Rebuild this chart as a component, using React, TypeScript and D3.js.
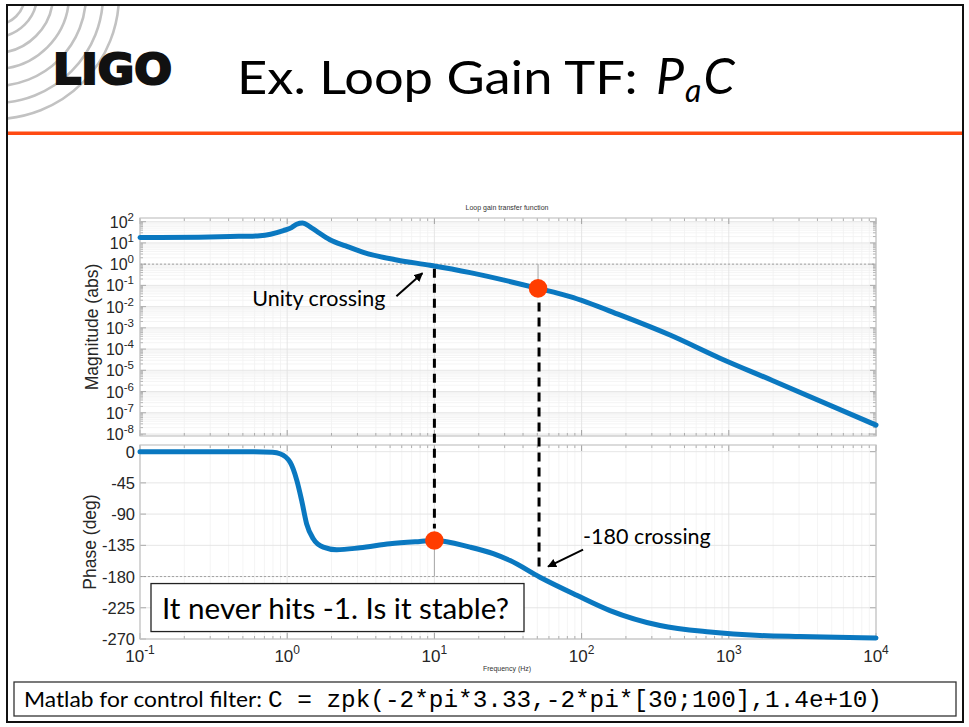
import React from "react";
import * as d3 from "d3";

// ---------- data ----------
const magFreqHz = [0.1, 0.251, 0.41, 0.653, 0.942, 1.07, 1.16, 1.27, 1.43, 1.585, 1.95, 2.5, 3.29, 5.55, 9.33, 17.5, 50.6, 83.4, 182, 399, 871, 1995, 10000];
const magValue = [17.8, 18.6, 20, 21.9, 38, 52.5, 75.9, 87, 57.5, 35.5, 14.1, 7.2, 3.63, 1.58, 0.89, 0.40, 0.072, 0.0295, 0.00407, 4.57e-4, 3.72e-5, 3.24e-6, 2.63e-8];

const phaseFreqHz = [0.1, 0.558, 0.794, 0.893, 1.045, 1.161, 1.253, 1.355, 1.503, 1.758, 2.168, 3.126, 4.989, 7.98, 10.09, 17.46, 25.1, 32.7, 52.1, 92.7, 156, 341, 745, 1629, 3048, 10000];
const phaseDeg = [0, 0, -1, -3, -15, -41, -70, -104, -125.5, -137.6, -141.4, -138.5, -132.8, -129.4, -128, -137.6, -147, -157, -181, -207, -229, -250.6, -260, -265, -266.5, -268.4];

const freqTickExps = [-1, 0, 1, 2, 3, 4];
const magTickExps = [2, 1, 0, -1, -2, -3, -4, -5, -6, -7, -8];
const phaseTicks = [0, -45, -90, -135, -180, -225, -270];

const unityFreqHz = 10;
const phaseCrossFreqHz = 50.6;
const gainAtPhaseCross = 0.072;
const phaseAtUnity = -128;

const titleText = "Ex. Loop Gain TF: ";
const plotTitle = "Loop gain transfer function";
const xLabel = "Frequency (Hz)";
const magLabel = "Magnitude (abs)";
const phaseLabel = "Phase (deg)";
const unityText = "Unity crossing";
const crossText = "-180 crossing";
const boxText = "It never hits -1. Is it stable?";
const footLead = "Matlab for control filter: ";
const footCode = "C = zpk(-2*pi*3.33,-2*pi*[30;100],1.4e+10)";

// ---------- styles ----------
const BLUE = "#0a78c0";
const RED = "#ff3d00";
const FRAME = "#c4c4c4";
const GRID_MAJ = "#e3e3e3";
const GRID_MIN = "#f1f1f1";
const TICK = "#9a9a9a";
const UI = "Lato, 'Open Sans', sans-serif";
const AX = "'Liberation Sans', Arial, sans-serif";

export default function App() {
  const x = d3.scaleLog().domain([0.1, 1e4]).range([140, 876]);
  const yMag = d3.scaleLog().domain([Math.pow(10, -8.094), Math.pow(10, 2.174)]).range([436, 218]);
  const yPh = d3.scaleLinear().domain([-270, 9.6]).range([639, 445]);

  const xL = x.range()[0], xR = x.range()[1];
  const mTop = yMag.range()[1], mBot = yMag.range()[0];
  const pTop = yPh.range()[1], pBot = yPh.range()[0];

  const minorFreqs: number[] = [];
  for (let e = -1; e < 4; e++) for (let k = 2; k <= 9; k++) minorFreqs.push(k * Math.pow(10, e));
  const majorFreqs = freqTickExps.map((e) => Math.pow(10, e));
  const minorMags: number[] = [];
  for (let e = -9; e <= 2; e++)
    for (let k = 2; k <= 9; k++) {
      const v = k * Math.pow(10, e);
      if (v > yMag.domain()[0] && v < yMag.domain()[1]) minorMags.push(v);
    }
  const majorMags = magTickExps.map((e) => Math.pow(10, e));

  const magLine = d3
    .line<number>()
    .x((_, i) => x(magFreqHz[i]))
    .y((d) => yMag(d))
    .curve(d3.curveMonotoneX)(magValue) as string;
  const phLine = d3
    .line<number>()
    .x((_, i) => x(phaseFreqHz[i]))
    .y((d) => yPh(d))
    .curve(d3.curveMonotoneX)(phaseDeg) as string;

  const xu = x(unityFreqHz);
  const xc = x(phaseCrossFreqHz);
  const yDotMag = yMag(gainAtPhaseCross);
  const yDotPh = yPh(phaseAtUnity);
  const y1 = yMag(1);
  const y180 = yPh(-180);

  const arcR = [30, 42, 58, 74, 91, 108, 124];

  const frameTicks = (top: number, bot: number, key: string) => (
    <g key={key}>
      {minorFreqs.map((f, i) => (
        <g key={"mt" + i}>
          <line x1={x(f)} x2={x(f)} y1={bot} y2={bot - 3} stroke={TICK} strokeWidth={0.8} />
          <line x1={x(f)} x2={x(f)} y1={top} y2={top + 3} stroke={TICK} strokeWidth={0.8} />
        </g>
      ))}
      {majorFreqs.map((f, i) => (
        <g key={"Mt" + i}>
          <line x1={x(f)} x2={x(f)} y1={bot} y2={bot - 6} stroke={TICK} strokeWidth={0.9} />
          <line x1={x(f)} x2={x(f)} y1={top} y2={top + 6} stroke={TICK} strokeWidth={0.9} />
        </g>
      ))}
    </g>
  );

  return (
    <svg width={969} height={727} style={{ position: "absolute", left: 0, top: 0, background: "#fff" }}>
      <defs>
        <clipPath id="slideClip">
          <rect x={8} y={6} width={954} height={715} />
        </clipPath>
        <marker id="arr" viewBox="0 0 10 10" refX={9} refY={5} markerWidth={9} markerHeight={9} markerUnits="userSpaceOnUse" orient="auto">
          <path d="M0,0 L10,5 L0,10 z" fill="#000" />
        </marker>
      </defs>
      <rect x={0} y={0} width={969} height={727} fill="#fff" />

      {/* decorative arcs */}
      <g clipPath="url(#slideClip)">
        {arcR.map((r, i) => (
          <circle key={i} cx={-5} cy={-5} r={r} fill="none" stroke="#c2c2c2" strokeWidth={2.6} />
        ))}
      </g>

      {/* slide frame */}
      <rect x={7} y={5} width={956} height={717} fill="none" stroke="#111" strokeWidth={2} />
      <line x1={8} x2={962} y1={133.3} y2={133.3} stroke="#ff4a12" strokeWidth={3.4} />

      {/* logo */}
      <text x={53} y={83.5} fontFamily="'DejaVu Sans', sans-serif" fontWeight={700} fontSize={42} fill="#111" stroke="#111" strokeWidth={2.2} textLength={119} lengthAdjust="spacingAndGlyphs">LIGO</text>

      {/* title */}
      <text x={237} y={94} fontFamily={UI} fontWeight={400} fontSize={46} fill="#000">
        <tspan textLength={414} lengthAdjust="spacingAndGlyphs">{titleText}</tspan>
        <tspan x={656} fontStyle="italic" fontSize={50}>P</tspan>
        <tspan fontStyle="italic" fontSize={32} dy={8} dx={1}>a</tspan>
        <tspan fontStyle="italic" fontSize={50} dy={-8} dx={2}>C</tspan>
      </text>

      {/* magnitude axes */}
      <rect x={xL} y={mTop} width={xR - xL} height={mBot - mTop} fill="#fff" />
      {minorMags.map((v, i) => (
        <line key={"hm" + i} x1={xL} x2={xR} y1={yMag(v)} y2={yMag(v)} stroke={GRID_MIN} strokeWidth={0.8} />
      ))}
      {minorFreqs.map((f, i) => (
        <line key={"vm" + i} x1={x(f)} x2={x(f)} y1={mTop} y2={mBot} stroke={GRID_MIN} strokeWidth={0.8} />
      ))}
      {majorMags.map((v, i) => (
        <line key={"hM" + i} x1={xL} x2={xR} y1={yMag(v)} y2={yMag(v)} stroke={GRID_MAJ} strokeWidth={0.9} />
      ))}
      {majorFreqs.map((f, i) => (
        <line key={"vM" + i} x1={x(f)} x2={x(f)} y1={mTop} y2={mBot} stroke={GRID_MAJ} strokeWidth={0.9} />
      ))}
      {frameTicks(mTop, mBot, "mt")}
      {minorMags.map((v, i) => (
        <g key={"ymt" + i}>
          <line x1={xL} x2={xL + 3} y1={yMag(v)} y2={yMag(v)} stroke={TICK} strokeWidth={0.7} />
          <line x1={xR} x2={xR - 3} y1={yMag(v)} y2={yMag(v)} stroke={TICK} strokeWidth={0.7} />
        </g>
      ))}
      {majorMags.map((v, i) => (
        <g key={"yMt" + i}>
          <line x1={xL} x2={xL + 6} y1={yMag(v)} y2={yMag(v)} stroke={TICK} strokeWidth={0.8} />
          <line x1={xR} x2={xR - 6} y1={yMag(v)} y2={yMag(v)} stroke={TICK} strokeWidth={0.8} />
        </g>
      ))}
      <line x1={xL} x2={xR} y1={y1} y2={y1} stroke="#9a9a9a" strokeWidth={0.9} strokeDasharray="2,2" />
      <line x1={xc} x2={xc} y1={y1} y2={yDotMag} stroke="#a8a8a8" strokeWidth={1} />
      <rect x={xL} y={mTop} width={xR - xL} height={mBot - mTop} fill="none" stroke={FRAME} strokeWidth={1.2} />

      {/* phase axes */}
      <rect x={xL} y={pTop} width={xR - xL} height={pBot - pTop} fill="#fff" />
      {minorFreqs.map((f, i) => (
        <line key={"vpm" + i} x1={x(f)} x2={x(f)} y1={pTop} y2={pBot} stroke={GRID_MIN} strokeWidth={0.8} />
      ))}
      {phaseTicks.map((v, i) => (
        <line key={"hp" + i} x1={xL} x2={xR} y1={yPh(v)} y2={yPh(v)} stroke={GRID_MAJ} strokeWidth={0.9} />
      ))}
      {majorFreqs.map((f, i) => (
        <line key={"vpM" + i} x1={x(f)} x2={x(f)} y1={pTop} y2={pBot} stroke={GRID_MAJ} strokeWidth={0.9} />
      ))}
      {frameTicks(pTop, pBot, "pt")}
      {phaseTicks.map((v, i) => (
        <g key={"ypt" + i}>
          <line x1={xL} x2={xL + 6} y1={yPh(v)} y2={yPh(v)} stroke={TICK} strokeWidth={0.8} />
          <line x1={xR} x2={xR - 6} y1={yPh(v)} y2={yPh(v)} stroke={TICK} strokeWidth={0.8} />
        </g>
      ))}
      <line x1={xL} x2={xR} y1={y180} y2={y180} stroke="#9a9a9a" strokeWidth={0.9} strokeDasharray="2,2" />
      <line x1={xu} x2={xu} y1={yDotPh} y2={y180} stroke="#a8a8a8" strokeWidth={1} />
      <rect x={xL} y={pTop} width={xR - xL} height={pBot - pTop} fill="none" stroke={FRAME} strokeWidth={1.2} />

      {/* curves */}
      <path d={magLine} fill="none" stroke={BLUE} strokeWidth={5} strokeLinejoin="round" strokeLinecap="round" />
      <path d={phLine} fill="none" stroke={BLUE} strokeWidth={5} strokeLinejoin="round" strokeLinecap="round" />

      {/* black dashed markers */}
      <line x1={xu} x2={xu} y1={yMag(0.6)} y2={yDotPh - 12} stroke="#000" strokeWidth={3} strokeDasharray="9,6" />
      <line x1={xc + 1} x2={xc + 1} y1={yDotMag + 14} y2={y180 - 9} stroke="#000" strokeWidth={3} strokeDasharray="9,6" />

      {/* red dots */}
      <circle cx={xc} cy={yDotMag} r={9.3} fill={RED} />
      <circle cx={xu} cy={yDotPh} r={9.3} fill={RED} />

      {/* mag tick labels */}
      {magTickExps.map((e, i) => (
        <text key={"ml" + i} x={134} y={yMag(Math.pow(10, e)) + 6} textAnchor="end" fontFamily={AX} fontSize={16} fill="#262626">
          10<tspan fontSize={11.5} dy={-7}>{String(e)}</tspan>
        </text>
      ))}
      {/* phase tick labels */}
      {phaseTicks.map((v, i) => (
        <text key={"pl" + i} x={135} y={yPh(v) + 6} textAnchor="end" fontFamily={AX} fontSize={16.5} fill="#262626">
          {String(v)}
        </text>
      ))}
      {/* freq tick labels */}
      {freqTickExps.map((e, i) => (
        <text key={"fl" + i} x={x(Math.pow(10, e))} y={662} textAnchor="middle" fontFamily={AX} fontSize={17} fill="#262626">
          10<tspan fontSize={12} dy={-8}>{String(e)}</tspan>
        </text>
      ))}

      <text x={507} y={210} textAnchor="middle" fontFamily={AX} fontSize={7} fill="#333">{plotTitle}</text>
      <text x={507} y={671} textAnchor="middle" fontFamily={AX} fontSize={7} fill="#333">{xLabel}</text>
      <text transform={`translate(98,${(mTop + mBot) / 2}) rotate(-90)`} textAnchor="middle" fontFamily={AX} fontSize={17.5} fill="#262626">{magLabel}</text>
      <text transform={`translate(96,${(pTop + pBot) / 2}) rotate(-90)`} textAnchor="middle" fontFamily={AX} fontSize={17.5} fill="#262626">{phaseLabel}</text>

      {/* annotations */}
      <line x1={xu - 38} y1={y1 + 32} x2={xu - 12} y2={y1 + 9} stroke="#000" strokeWidth={2} markerEnd="url(#arr)" />
      <text x={xu - 49} y={y1 + 42} textAnchor="end" fontFamily={UI} fontSize={21.5} fill="#000">{unityText}</text>
      <line x1={xc + 45} y1={y180 - 27} x2={xc + 10} y2={y180 - 10} stroke="#000" strokeWidth={2} markerEnd="url(#arr)" />
      <text x={xc + 45} y={y180 - 33} fontFamily={UI} fontSize={21.5} fill="#000">{crossText}</text>

      <rect x={xL + 11} y={y180 + 7} width={373} height={48} fill="#fff" stroke="#222" strokeWidth={1.3} />
      <text x={xL + 22} y={y180 + 42} fontFamily={UI} fontSize={28} fill="#000" textLength={347} lengthAdjust="spacingAndGlyphs">{boxText}</text>

      {/* footer */}
      <rect x={14} y={682} width={942} height={34} fill="#fff" stroke="#333" strokeWidth={1.3} />
      <text x={24} y={707} fontFamily={UI} fontSize={21} fill="#000" textLength={238} lengthAdjust="spacingAndGlyphs">{footLead}</text>
      <text x={268} y={707} fontFamily="'Liberation Mono', 'DejaVu Sans Mono', monospace" fontSize={23} fill="#000" textLength={614} lengthAdjust="spacingAndGlyphs">{footCode}</text>
    </svg>
  );
}
